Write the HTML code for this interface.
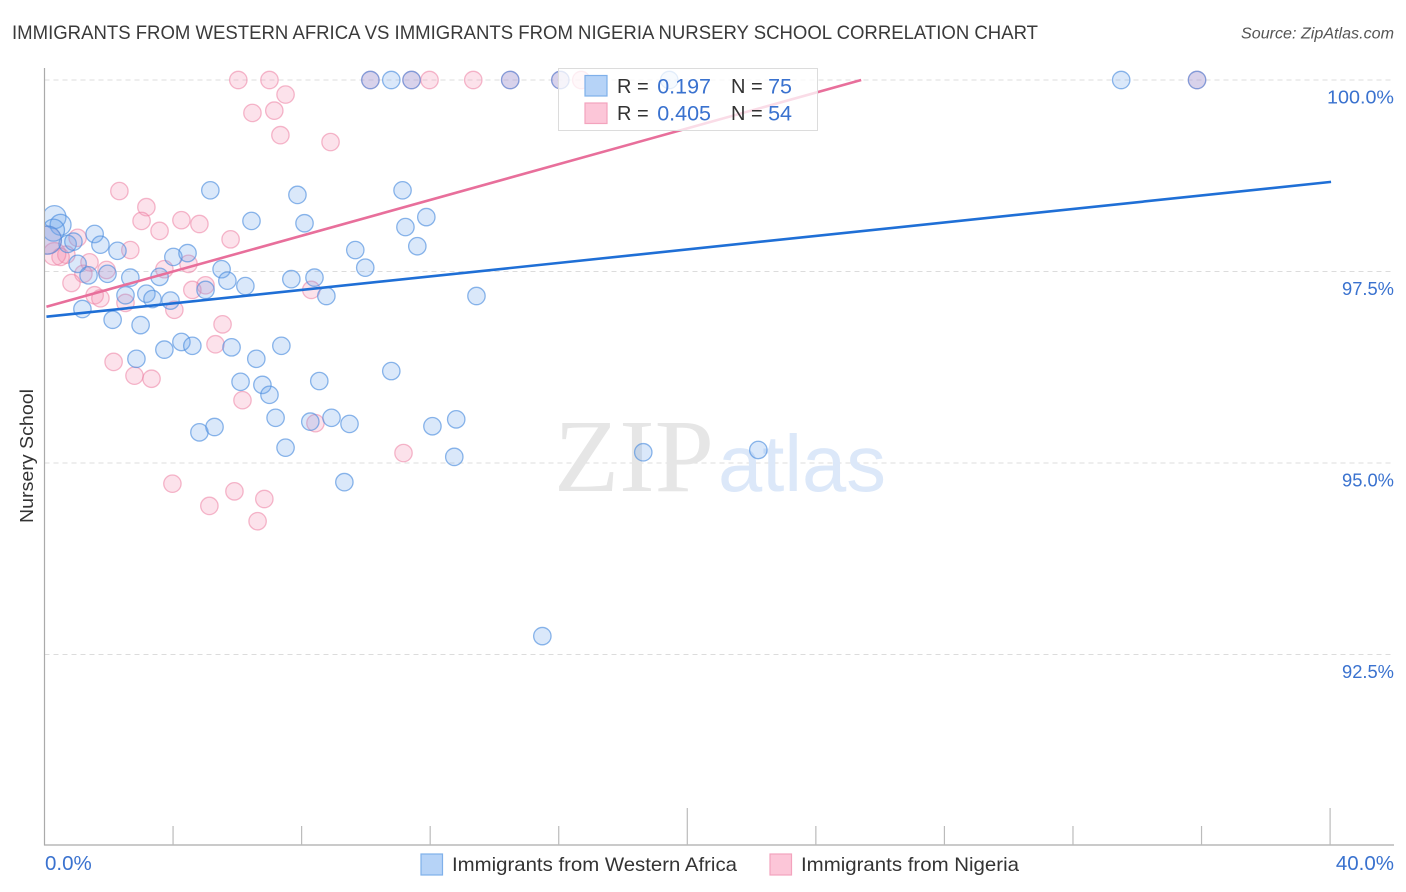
<!DOCTYPE html>
<html>
<head>
<meta charset="utf-8">
<title>Nursery School Correlation Chart</title>
<style>
html,body{margin:0;padding:0;background:#fff;width:1406px;height:892px;overflow:hidden}
svg{display:block;font-family:"Liberation Sans",sans-serif}
</style>
</head>
<body>
<svg id="chart" width="1406" height="892" viewBox="0 0 1406 892" xmlns="http://www.w3.org/2000/svg">
  <defs>
    <clipPath id="plot-clip"><rect x="45" y="0" width="1361" height="892"/></clipPath>
  </defs>
  <text x="12" y="39" font-size="19.5" fill="#3a3a3a" textLength="1026" lengthAdjust="spacingAndGlyphs">IMMIGRANTS FROM WESTERN AFRICA VS IMMIGRANTS FROM NIGERIA NURSERY SCHOOL CORRELATION CHART</text>
  <text x="1394" y="38.5" font-size="15.5" font-style="italic" fill="#555" text-anchor="end" textLength="153" lengthAdjust="spacingAndGlyphs">Source: ZipAtlas.com</text>
  <g id="grid"></g>
  <g>
    <text x="554" y="491" font-family="'Liberation Serif',serif" font-size="104" fill="#e6e6e6" textLength="160" lengthAdjust="spacingAndGlyphs">ZIP</text>
    <text x="718" y="491" font-size="80" fill="#dce8f9" textLength="168" lengthAdjust="spacingAndGlyphs">atlas</text>
  </g>
  <g id="axes"></g>
  <g id="points-nigeria" clip-path="url(#plot-clip)"></g>
  <g id="points-africa" clip-path="url(#plot-clip)"></g>
  <g id="trends"></g>
  <text x="0" y="0" transform="translate(33,456) rotate(-90)" font-size="18.5" fill="#333" text-anchor="middle" textLength="134" lengthAdjust="spacingAndGlyphs">Nursery School</text>
  <g>
    <rect x="558.5" y="68.5" width="259" height="62" fill="#fff" fill-opacity="0.76" stroke="#dcdcdc" stroke-width="1"/>
    <rect x="585" y="75.5" width="22" height="20.5" fill="#b6d3f7" stroke="#7fb0ea" stroke-width="1.2"/>
    <rect x="585" y="103" width="22" height="20.5" fill="#fcc6d8" stroke="#f3a3bd" stroke-width="1.2"/>
    <g font-size="20" fill="#333">
      <text x="617" y="93">R =</text>
      <text x="731" y="93">N =</text>
      <text x="617" y="120">R =</text>
      <text x="731" y="120">N =</text>
    </g>
    <g font-size="21.5" fill="#3a72cf" text-anchor="end">
      <text x="711" y="93.5">0.197</text>
      <text x="792" y="93.5">75</text>
      <text x="711" y="120.5">0.405</text>
      <text x="792" y="120.5">54</text>
    </g>
  </g>
  <g>
    <rect x="421" y="854" width="21.5" height="21" fill="#b6d3f7" stroke="#7fb0ea" stroke-width="1.2"/>
    <text x="452" y="871" font-size="19.5" fill="#333" textLength="285" lengthAdjust="spacingAndGlyphs">Immigrants from Western Africa</text>
    <rect x="770" y="854" width="21.5" height="21" fill="#fcc6d8" stroke="#f3a3bd" stroke-width="1.2"/>
    <text x="801" y="871" font-size="19.5" fill="#333" textLength="218" lengthAdjust="spacingAndGlyphs">Immigrants from Nigeria</text>
  </g>
</svg>
<script>
const xTickValues = [0, 4, 8, 12, 16, 20, 24, 28, 32, 36, 40];
const xTickLabels = ["0.0%", "40.0%"];
const yTickValues = [100, 97.5, 95, 92.5];
const yTickLabels = ["100.0%", "97.5%", "95.0%", "92.5%"];

const africaX = [10.14,10.79,11.42,14.49,16.05,19.44,33.50,35.86,5.16,7.87,6.44,8.09,9.67,0.72,0.90,1.56,1.74,2.27,1.03,1.37,1.96,2.67,3.58,4.01,4.45,5.51,5.69,6.25,7.68,8.40,8.77,2.52,3.17,3.36,3.92,5.01,1.18,2.12,2.99,3.73,4.26,4.60,5.82,7.37,6.59,2.86,6.10,6.78,7.00,8.55,7.19,8.27,8.93,9.49,7.50,4.82,5.29,9.33,11.14,11.88,11.23,11.60,9.98,13.44,10.79,12.07,12.81,12.75,18.63,22.21,15.49,0.31,0.50,0.28,0.09];
const africaY = [100,100,100,100,100,100,100,100,98.56,98.50,98.16,98.13,97.78,97.86,97.89,97.99,97.85,97.77,97.60,97.45,97.47,97.42,97.43,97.69,97.74,97.53,97.38,97.31,97.40,97.42,97.18,97.19,97.21,97.14,97.12,97.26,97.01,96.87,96.80,96.48,96.58,96.53,96.51,96.53,96.36,96.36,96.06,96.02,95.89,96.07,95.59,95.54,95.59,95.51,95.20,95.40,95.47,94.75,98.56,98.21,98.08,97.83,97.55,97.18,96.20,95.48,95.57,95.08,95.14,95.17,92.74,98.21,98.11,98.04,97.91];
const africaWeight = [1,1,1,1,1,1,1,1,1,1,1,1,1,1,1,1,1,1,1,1,1,1,1,1,1,1,1,1,1,1,1,1,1,1,1,1,1,1,1,1,1,1,1,1,1,1,1,1,1,1,1,1,1,1,1,1,1,1,1,1,1,1,1,1,1,1,1,1,1,1,1,1.75,1.45,1.6,2.6];

const nigeriaX = [6.03,7.00,10.14,11.42,11.98,13.34,14.49,16.05,16.70,35.86,7.50,6.47,7.15,7.34,8.90,2.33,3.17,3.02,3.58,4.26,4.82,5.79,1.03,2.67,0.68,0.50,1.40,1.93,1.21,0.84,1.56,1.74,2.52,3.73,4.48,5.01,4.60,4.04,5.54,5.32,8.30,2.15,2.80,3.33,6.16,8.43,3.98,5.91,5.13,6.84,6.63,11.17,0.31,0.09];
const nigeriaY = [100,100,100,100,100,100,100,100,100,100,99.81,99.57,99.60,99.28,99.19,98.55,98.34,98.16,98.03,98.17,98.12,97.92,97.94,97.78,97.72,97.69,97.62,97.52,97.47,97.35,97.19,97.15,97.09,97.53,97.60,97.32,97.26,97.00,96.81,96.55,97.26,96.32,96.14,96.10,95.82,95.52,94.73,94.63,94.44,94.53,94.24,95.13,97.73,97.91];
const nigeriaWeight = [1,1,1,1,1,1,1,1,1,1,1,1,1,1,1,1,1,1,1,1,1,1,1,1,1,1,1,1,1,1,1,1,1,1,1,1,1,1,1,1,1,1,1,1,1,1,1,1,1,1,1,1,1.7,2.6];

const africaTrendX = [0.06, 40.03];
const africaTrendY = [96.91, 98.67];
const nigeriaTrendX = [0.06, 25.41];
const nigeriaTrendY = [97.04, 100];

const NS = 'http://www.w3.org/2000/svg';
function xScale(v) { return 44.5 + v * 32.14; }
function yScale(v) { return 80 + (100 - v) * 76.6; }
function rScale(w) { return 8.7 * Math.sqrt(w); }
function make(tag, parent, attrs) {
  const el = document.createElementNS(NS, tag);
  Object.keys(attrs).forEach(function (k) { el.setAttribute(k, attrs[k]); });
  parent.appendChild(el);
  return el;
}

const grid = document.getElementById('grid');
yTickValues.forEach(function (v, i) {
  const line = make('line', grid, {x1: 44.5, x2: 1394, y1: yScale(v), y2: yScale(v), stroke: '#dcdcdc', 'stroke-width': 1, 'stroke-dasharray': '5 4'});
  
  
  const label = make('text', grid, {x: 1394, y: yScale(v) + 23.5, 'text-anchor': 'end', 'font-size': 18.5, fill: '#3a72cf', textLength: yTickLabels[i].length > 5 ? 67 : 52, lengthAdjust: 'spacingAndGlyphs'});
  
  
  label.textContent = yTickLabels[i];
});

const axes = document.getElementById('axes');
const yAxis = make('line', axes, {x1: 44.5, x2: 44.5, y1: 68, y2: 845.5, stroke: '#aaa', 'stroke-width': 1.2});


const xAxis = make('line', axes, {x1: 44, x2: 1394, y1: 845, y2: 845, stroke: '#aaa', 'stroke-width': 1.2});


xTickValues.forEach(function (v) {
  if (v === 0) return;
  const top = (v === 20 || v === 40) ? 808 : 826;
  const tick = make('line', axes, {x1: xScale(v), x2: xScale(v), y1: top, y2: 845, stroke: '#bbb', 'stroke-width': 1.2});
  
  
});
const xMinLabel = make('text', axes, {x: 45, y: 870, 'font-size': 20.5, fill: '#3a72cf'});


xMinLabel.textContent = xTickLabels[0];
const xMaxLabel = make('text', axes, {x: 1394, y: 870, 'font-size': 20.5, fill: '#3a72cf', 'text-anchor': 'end'});


xMaxLabel.textContent = xTickLabels[1];

const nigeriaLayer = document.getElementById('points-nigeria');
nigeriaX.forEach(function (v, i) {
  const dot = make('circle', nigeriaLayer, {cx: xScale(v), cy: yScale(nigeriaY[i]), r: rScale(nigeriaWeight[i]), fill: '#f58fb0', 'fill-opacity': 0.26, stroke: '#ec7fa3', 'stroke-opacity': 0.55, 'stroke-width': 1.3});
  
  
});
const africaLayer = document.getElementById('points-africa');
africaX.forEach(function (v, i) {
  const dot = make('circle', africaLayer, {cx: xScale(v), cy: yScale(africaY[i]), r: rScale(africaWeight[i]), fill: '#6fa8ea', 'fill-opacity': 0.26, stroke: '#4f8fdf', 'stroke-opacity': 0.65, 'stroke-width': 1.3});
  
  
});

const trends = document.getElementById('trends');
const nigeriaTrend = make('line', trends, {x1: xScale(nigeriaTrendX[0]), y1: yScale(nigeriaTrendY[0]), x2: xScale(nigeriaTrendX[1]), y2: yScale(nigeriaTrendY[1]), stroke: '#e86f9b', 'stroke-width': 2.6});


const africaTrend = make('line', trends, {x1: xScale(africaTrendX[0]), y1: yScale(africaTrendY[0]), x2: xScale(africaTrendX[1]), y2: yScale(africaTrendY[1]), stroke: '#1f6fd6', 'stroke-width': 2.6});


</script>
</body>
</html>
